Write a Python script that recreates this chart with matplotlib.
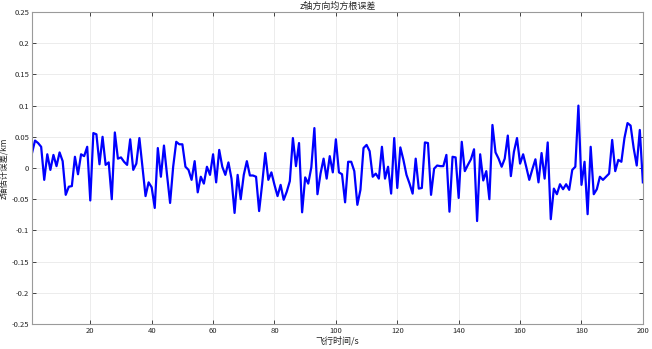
import matplotlib.pyplot as plt
import numpy as np

plt.rcParams['font.family'] = ['Noto Sans CJK SC', 'DejaVu Sans']
plt.rcParams['axes.unicode_minus'] = False

t = np.arange(1, 201)
err = [
    0.0235, 0.044, 0.040, 0.034, -0.019, 0.022, -0.003, 0.021, 0.003, 0.025,
    0.011, -0.043, -0.030, -0.029, 0.018, -0.010, 0.022, 0.019, 0.034, -0.052,
    0.056, 0.054, 0.006, 0.050, 0.005, 0.009, -0.050, 0.057, 0.015, 0.017,
    0.010, 0.005, 0.046, -0.003, 0.007, 0.048, 0.002, -0.045, -0.023, -0.031,
    -0.064, 0.032, -0.014, 0.036, -0.011, -0.056, 0.002, 0.042, 0.038, 0.038,
    0.002, -0.003, -0.019, 0.011, -0.039, -0.014, -0.025, 0.002, -0.011, 0.022,
    -0.023, 0.029, 0.002, -0.011, 0.009, -0.017, -0.072, -0.011, -0.050, -0.011,
    0.011, -0.012, -0.012, -0.014, -0.069, -0.025, 0.024, -0.019, -0.007, -0.027,
    -0.045, -0.027, -0.051, -0.038, -0.021, 0.048, 0.003, 0.040, -0.071, -0.015,
    -0.025, 0.001, 0.064, -0.042, -0.009, 0.015, -0.017, 0.019, -0.007, 0.046,
    -0.007, -0.010, -0.055, 0.010, 0.010, -0.005, -0.059, -0.035, 0.032, 0.037,
    0.027, -0.014, -0.009, -0.017, 0.034, -0.017, 0.002, -0.041, 0.048, -0.032,
    0.033, 0.013, -0.011, -0.025, -0.041, 0.015, -0.033, -0.032, 0.041, 0.040,
    -0.043, -0.001, 0.004, 0.003, 0.003, 0.021, -0.070, 0.018, 0.017, -0.048,
    0.042, -0.005, 0.005, 0.014, 0.030, -0.085, 0.022, -0.020, -0.005, -0.050,
    0.069, 0.025, 0.015, 0.002, 0.015, 0.052, -0.013, 0.026, 0.048, 0.007,
    0.022, 0.002, -0.019, -0.002, 0.014, -0.023, 0.024, -0.017, 0.041, -0.082,
    -0.033, -0.042, -0.026, -0.034, -0.026, -0.035, -0.003, 0.002, 0.100, -0.027,
    0.010, -0.074, 0.034, -0.042, -0.034, -0.014, -0.019, -0.014, -0.009, 0.045,
    -0.005, 0.013, 0.010, 0.048, 0.072, 0.068, 0.032, 0.004, 0.061, -0.023,
]

yticks = np.round(np.arange(-0.25, 0.2501, 0.05), 2)
ytick_labels = ['-0.25', '-0.2', '-0.15', '-0.1', '-0.05', '0', '0.05', '0.1', '0.15', '0.2', '0.25']
xticks = np.arange(20, 201, 20)

fig = plt.figure(figsize=(6.52, 3.49), dpi=100)
ax = fig.add_axes([0.049, 0.0716, 0.937, 0.894])
ax.plot(t, err, color=(0, 0, 1), linewidth=1.6)

ax.set_xlim(1, 200)
ax.set_ylim(-0.25, 0.25)
ax.set_xticks(xticks)
ax.set_yticks(yticks)
ax.set_yticklabels(ytick_labels)
ax.grid(True, color='#ececec', linewidth=0.7)
ax.tick_params(direction='in', top=True, right=True, labelsize=5.5,
               colors='#262626', length=3, width=0.6, pad=2)
for s in ax.spines.values():
    s.set_color('#9a9a9a')
    s.set_linewidth(0.8)

ax.set_title('z轴方向均方根误差', fontsize=6.5, pad=2, color='#262626')
ax.set_xlabel('飞行时间/s', fontsize=6.5, labelpad=1, color='#262626')
ax.set_ylabel('z轴估计误差/km', fontsize=6, color='#262626')
ax.yaxis.set_label_coords(-0.039, 0.5)

fig.savefig('out.png', dpi=100)
